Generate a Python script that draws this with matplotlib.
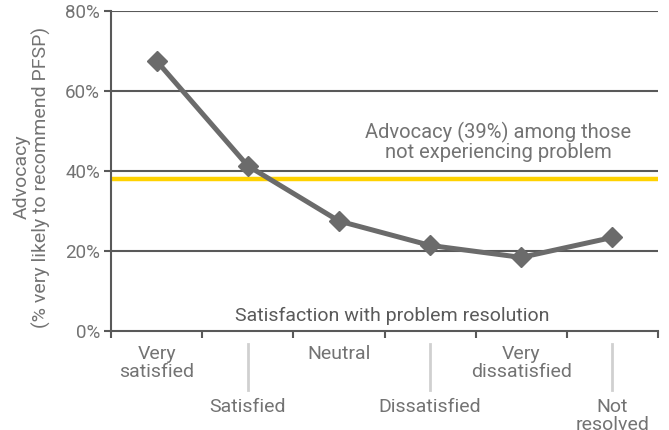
import numpy as np
import matplotlib
matplotlib.use("Agg")
import matplotlib.pyplot as plt
import matplotlib.transforms as mtransforms

# Data
categories = ["Very\nsatisfied", "Satisfied", "Neutral", "Dissatisfied",
              "Very\ndissatisfied", "Not\nresolved"]
advocacy = [67.5, 41.3, 27.5, 21.4, 18.4, 23.4]
baseline = 38
y_ticks = [0, 20, 40, 60, 80]
y_tick_labels = ["0%", "20%", "40%", "60%", "80%"]

text_col = "#737373"
line_col = "#6b6b6b"
grid_col = "#595959"
yellow = "#FFD200"

plt.rcParams['font.family'] = ['Roboto', 'DejaVu Sans']

fig = plt.figure(figsize=(6.69, 4.30), dpi=100)
ax = fig.add_axes([0.166, 0.2302, 0.8175, 0.7442])

x = np.arange(len(categories))
ax.set_xlim(-0.5, len(categories) - 0.5)
ax.set_ylim(0, 80)

for yv in y_ticks[1:]:
    ax.axhline(yv, color=grid_col, lw=1.5, zorder=1)
ax.axhline(baseline, color=yellow, lw=3.2, zorder=2)
ax.plot(x, advocacy, color=line_col, lw=3.6, marker='D', markersize=10,
        zorder=3)

for s in ['top', 'right']:
    ax.spines[s].set_visible(False)
for s in ['left', 'bottom']:
    ax.spines[s].set_color(grid_col)
    ax.spines[s].set_linewidth(1.5)

ax.set_yticks(y_ticks)
ax.set_yticklabels(y_tick_labels, fontsize=13.5, color=text_col)
ax.tick_params(axis='y', length=5, width=1.5, color=grid_col, pad=3)
ax.set_xticks(np.arange(-0.5, len(categories)))
ax.set_xticklabels([])
ax.tick_params(axis='x', length=5, width=1.5, color=grid_col)

trans = mtransforms.blended_transform_factory(ax.transData, ax.transAxes)
for i, lab in enumerate(categories):
    if i % 2 == 0:
        ax.text(i, -0.045, lab, transform=trans, ha='center', va='top',
                fontsize=14, color=text_col, linespacing=1.0)
    else:
        ax.plot([i, i], [-0.04, -0.184], transform=trans, color="#d0d0d0",
                lw=2, clip_on=False)
        ax.text(i, -0.21, lab, transform=trans, ha='center', va='top',
                fontsize=14, color=text_col, linespacing=1.0)

ax.text(0.515, 0.047, "Satisfaction with problem resolution", transform=ax.transAxes,
        ha='center', va='center', fontsize=14, color="#5a5a5a")
ax.text(3.75, 47.2, "Advocacy (39%) among those\nnot experiencing problem",
        ha='center', va='center', fontsize=14.5, color=text_col, linespacing=1.0)

fig.text(0.048, 0.588, "Advocacy\n(% very likely to recommend PFSP)", rotation=90,
         ha='center', va='center', fontsize=14, color=text_col, linespacing=1.05)

fig.savefig("out.png", dpi=100)
